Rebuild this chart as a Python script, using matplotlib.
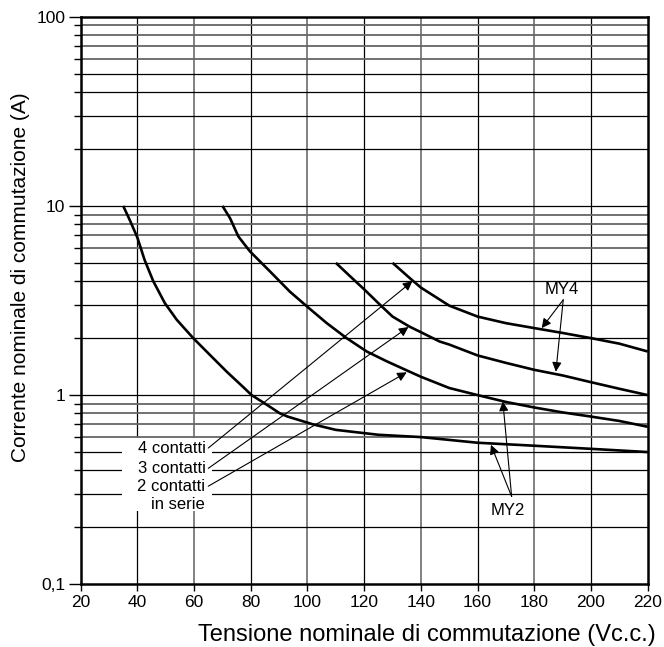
import matplotlib
matplotlib.use("Agg")
import matplotlib.pyplot as plt
from matplotlib.patches import Rectangle
from matplotlib.ticker import NullFormatter

plt.rcParams['font.family'] = ['Liberation Sans', 'DejaVu Sans']

# Curve 1 (single contact)
c1_x = [35, 37.5, 40, 42.5, 45.6, 49.7, 53.9, 59.7, 65.6, 71.5, 77.4, 80.3, 85.6, 90.3, 93,
        102, 110, 125, 140, 160, 180, 200, 220]
c1_y = [10, 8.3, 6.8, 5.2, 4.0, 3.06, 2.5, 2.0, 1.63, 1.33, 1.10, 1.0, 0.89, 0.80, 0.77,
        0.70, 0.655, 0.617, 0.60, 0.56, 0.54, 0.52, 0.50]
# Curve 2 (2 contacts in series)
c2_x = [70, 72.7, 75.6, 79.7, 86.8, 93.8, 100.3, 106.8, 113.8, 120.9, 127.9, 136, 140,
        150, 160, 170, 180, 190, 200, 210, 220]
c2_y = [10, 8.6, 6.9, 5.75, 4.5, 3.52, 2.9, 2.4, 2.0, 1.7, 1.51, 1.33, 1.25,
        1.09, 1.0, 0.92, 0.86, 0.81, 0.77, 0.73, 0.68]
# Curve 3 (3 contacts in series)
c3_x = [110, 115, 120, 125.6, 130, 136, 140, 146.6, 150, 160, 170, 180, 190, 200, 210, 220]
c3_y = [5.0, 4.25, 3.62, 3.0, 2.6, 2.3, 2.15, 1.92, 1.85, 1.62, 1.48, 1.36, 1.27, 1.17, 1.08, 1.0]
# Curve 4 (4 contacts in series)
c4_x = [130, 136.5, 140, 146.6, 150, 160, 170, 180, 190, 200, 210, 220]
c4_y = [5.0, 4.1, 3.7, 3.2, 2.97, 2.6, 2.4, 2.26, 2.13, 2.0, 1.87, 1.70]

x_ticks = [20, 40, 60, 80, 100, 120, 140, 160, 180, 200, 220]
y_ticks = [0.1, 1, 10, 100]
y_tick_labels = ["0,1", "1", "10", "100"]

contact_labels = ["4 contatti", "3 contatti", "2 contatti"]
label_y = [0.525, 0.41, 0.33]
arrow_tips = [(137, 4.0), (135.6, 2.29), (135, 1.32)]

fig = plt.figure(figsize=(6.64, 6.47), dpi=100)
ax = fig.add_axes([0.1215, 0.0969, 0.854, 0.8773])
ax.set_yscale('log')
ax.set_xlim(20, 220)
ax.set_ylim(0.1, 100)

# grid
for i, xv in enumerate(x_ticks[1:-1]):
    col = 'black' if i % 2 == 0 else '#777777'
    lw = 0.9 if i % 2 == 0 else 1.3
    ax.axvline(xv, color=col, lw=lw, zorder=1)
for dec in [0.1, 1, 10]:
    for m in range(1, 10):
        v = dec * m
        if v <= 0.1:
            continue
        if m in (1, 2, 3, 4, 5):
            ax.axhline(v, color='black', lw=0.9, zorder=1)
        else:
            ax.axhline(v, color='#666666', lw=1.3, zorder=1)

# white box behind labels
ax.add_patch(Rectangle((34.6, 0.245), 66.4 - 34.6, 0.59 - 0.245,
                       facecolor='white', edgecolor='none', zorder=2))

for xs, ys in [(c1_x, c1_y), (c2_x, c2_y), (c3_x, c3_y), (c4_x, c4_y)]:
    ax.plot(xs, ys, color='black', lw=1.9, zorder=4, solid_capstyle='butt',
            solid_joinstyle='round')

arrow_kw = dict(arrowstyle='-|>', color='black', lw=0.8, mutation_scale=14,
                shrinkA=0, shrinkB=0)
for lab, ly, tip in zip(contact_labels, label_y, arrow_tips):
    ax.text(64.0, ly, lab, ha='right', va='center', fontsize=12, zorder=5)
    ax.annotate('', xy=tip, xytext=(65.0, ly), arrowprops=arrow_kw, zorder=5)
ax.text(63.6, 0.263, "in serie", ha='right', va='center', fontsize=12, zorder=5)

# MY4
ax.text(189.6, 3.63, "MY4", ha='center', va='center', fontsize=12, zorder=5)
for tip in [(182.6, 2.26), (187.6, 1.33)]:
    ax.annotate('', xy=tip, xytext=(190.2, 3.19), arrowprops=arrow_kw, zorder=5)
# MY2
ax.text(170.8, 0.246, "MY2", ha='center', va='center', fontsize=12, zorder=5)
for tip in [(164.7, 0.546), (168.9, 0.925)]:
    ax.annotate('', xy=tip, xytext=(172.0, 0.291), arrowprops=arrow_kw, zorder=5)

ax.set_xticks(x_ticks)
ax.set_xticklabels([str(v) for v in x_ticks], fontsize=12.5)
ax.set_yticks(y_ticks)
ax.set_yticklabels(y_tick_labels, fontsize=12.5)
ax.yaxis.set_minor_formatter(NullFormatter())
ax.tick_params(axis='x', which='major', length=5, width=1, direction='out', pad=3)
ax.tick_params(axis='y', which='major', length=9, width=1, direction='out', pad=2)
ax.tick_params(axis='y', which='minor', length=5, width=1, direction='out')
for s in ax.spines.values():
    s.set_linewidth(1.8)
    s.set_zorder(6)

fig.text(656 / 664, 1 - 635 / 647, "Tensione nominale di commutazione (Vc.c.)",
         ha='right', va='center', fontsize=17)
fig.text(20.5 / 664, 1 - 277 / 647, "Corrente nominale di commutazione (A)",
         ha='center', va='center', rotation=90, fontsize=15)

fig.savefig('out.png', dpi=100)
